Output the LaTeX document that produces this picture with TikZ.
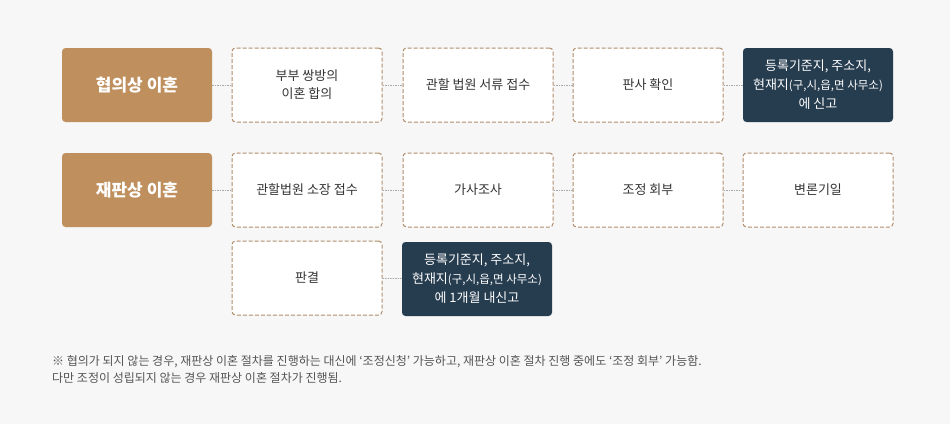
\documentclass[tikz,border=0pt]{standalone}
\usepackage{fontspec}
\setmainfont{Noto Sans CJK KR}
\definecolor{bgc}{HTML}{F7F7F7}
\definecolor{brownc}{HTML}{BF8F5E}
\definecolor{navyc}{HTML}{263C4F}
\definecolor{dashc}{HTML}{B08E6C}
\definecolor{linec}{HTML}{A8A8A8}
\definecolor{txtc}{HTML}{333333}
\definecolor{notec}{HTML}{555555}
\newcommand{\smallpar}[1]{{\fontsize{11.5}{19}\selectfont #1}}
\begin{document}
\begin{tikzpicture}[x=1pt,y=-1pt,
  basebox/.style={minimum width=150pt,minimum height=74pt,inner sep=0pt,rounded corners=3.5pt,align=center},
  titlebox/.style={basebox,fill=brownc,text=white,font=\fontsize{17}{20}\selectfont\bfseries},
  stepbox/.style={basebox,fill=white,draw=dashc,line width=1pt,dash pattern=on 4pt off 2pt,text=txtc,font=\fontsize{13}{18}\selectfont},
  darkbox/.style={basebox,fill=navyc,text=white,font=\fontsize{13}{19}\selectfont},
  conn/.style={draw=linec,line width=0.8pt,dash pattern=on 1.5pt off 1pt}
]
\fill[bgc] (0,0) rectangle (950,424);
\useasboundingbox (0,0) rectangle (950,424);
% row 1
\node[titlebox] (t1) at (137,85) {협의상 이혼};
\node[stepbox] (a2) at (307,85) {부부 쌍방의\\이혼 합의};
\node[stepbox] (a3) at (478,85) {관할 법원 서류 접수};
\node[stepbox] (a4) at (648,85) {판사 확인};
\node[darkbox] (a5) at (818,85) {등록기준지, 주소지,\\현재지\smallpar{(구,시,읍,면 사무소)}\\에 신고};
% row 2
\node[titlebox] (t2) at (137,190) {재판상 이혼};
\node[stepbox] (b2) at (307,190) {관할법원 소장 접수};
\node[stepbox] (b3) at (478,190) {가사조사};
\node[stepbox] (b4) at (648,190) {조정 회부};
\node[stepbox] (b5) at (818,190) {변론기일};
% row 3
\node[stepbox] (c2) at (307,278) {판결};
\node[darkbox] (c3) at (477,279) {등록기준지, 주소지,\\현재지\smallpar{(구,시,읍,면 사무소)}\\에 1개월 내신고};
% connectors
\draw[conn] (t1) -- (a2);
\draw[conn] (a2) -- (a3);
\draw[conn] (a3) -- (a4);
\draw[conn] (a4) -- (a5);
\draw[conn] (t2) -- (b2);
\draw[conn] (b2) -- (b3);
\draw[conn] (b3) -- (b4);
\draw[conn] (b4) -- (b5);
\draw[conn] (c2) -- (c3);
% note
\node[anchor=west,inner sep=0pt,text=notec,font=\fontsize{12}{17}\selectfont,align=left] (note) at (52,369.5)
  {※ 협의가 되지 않는 경우, 재판상 이혼 절차를 진행하는 대신에 ‘조정신청’ 가능하고, 재판상 이혼 절차 진행 중에도 ‘조정 회부’ 가능함.\\다만 조정이 성립되지 않는 경우 재판상 이혼 절차가 진행됨.};
\end{tikzpicture}
\end{document}
